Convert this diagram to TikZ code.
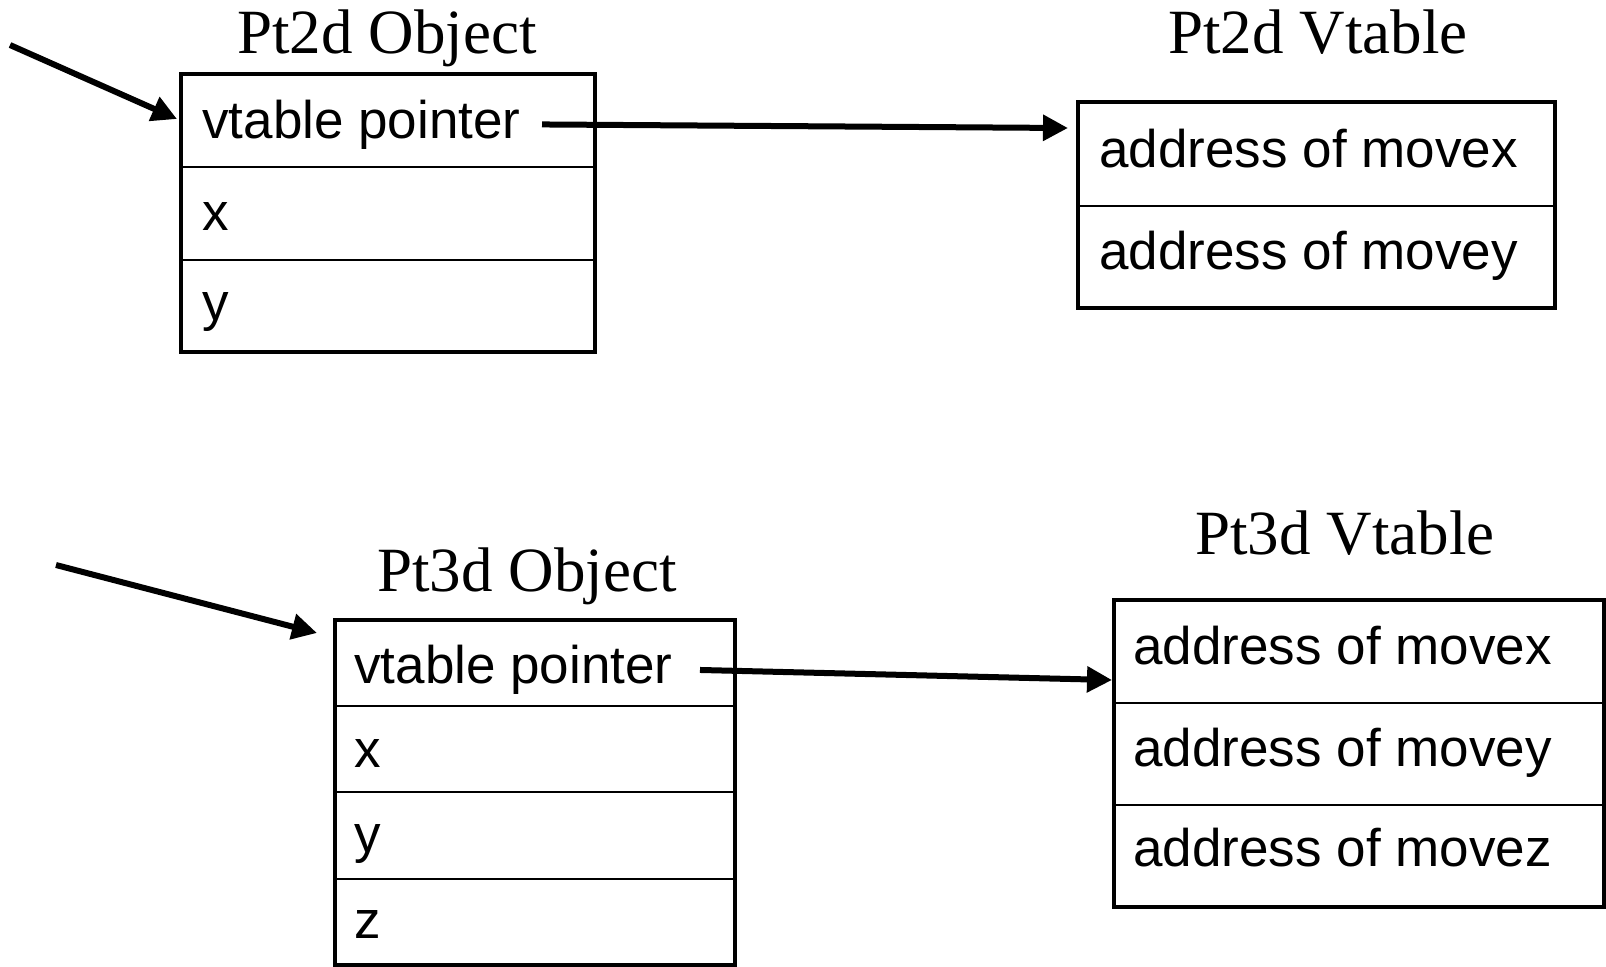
\documentclass[tikz,border=0pt]{standalone}
\usepackage{fontspec}
\setmainfont{Liberation Serif}
\newfontfamily\arialf{Liberation Sans}
\usetikzlibrary{arrows.meta}
\tikzset{
  box/.style={draw, line width=2.25pt, inner sep=0pt, outer sep=0pt, anchor=north west},
  divider/.style={line width=1pt},
  cell/.style={inner sep=0pt, anchor=base west, font=\arialf\fontsize{26.5pt}{30pt}\selectfont},
  title/.style={inner sep=0pt, anchor=base, font=\fontsize{31.5pt}{36pt}\selectfont},
  ptr/.style={line width=3pt, -{Triangle[length=12.5pt,width=12.5pt]}}
}
\begin{document}
\begin{tikzpicture}[x=0.5pt,y=-0.5pt]
\useasboundingbox (0,0) rectangle (1606,966);

% ---------- Pt2d Object ----------
\node[title] (t2o) at (387,53) {Pt2d Object};
\node[box, minimum width=207pt, minimum height=139pt] (p2box) at (181,74) {};
\draw[divider] (181,167) -- (594,167);
\draw[divider] (181,260) -- (594,260);
\node[cell] (p2vp) at (202,138) {vtable pointer};
\node[cell] (p2x) at (202,230) {x};
\node[cell] (p2y) at (202,320) {y};

% ---------- Pt2d Vtable ----------
\node[title] (t2v) at (1318,53) {Pt2d Vtable};
\node[box, minimum width=238.5pt, minimum height=103pt] (v2box) at (1078,102) {};
\draw[divider] (1078,206) -- (1554,206);
\node[cell] (v2a) at (1099,167) {address of movex};
\node[cell] (v2b) at (1099,269) {address of movey};

% ---------- Pt3d Object ----------
\node[title] (t3o) at (527,591) {Pt3d Object};
\node[box, minimum width=200pt, minimum height=172.5pt] (p3box) at (335,620) {};
\draw[divider] (335,706) -- (734,706);
\draw[divider] (335,792) -- (734,792);
\draw[divider] (335,879) -- (734,879);
\node[cell] (p3vp) at (354,683) {vtable pointer};
\node[cell] (p3x) at (354,767) {x};
\node[cell] (p3y) at (354,852) {y};
\node[cell] (p3z) at (354,938) {z};

% ---------- Pt3d Vtable ----------
\node[title] (t3v) at (1345,554) {Pt3d Vtable};
\node[box, minimum width=245pt, minimum height=153.5pt] (v3box) at (1114,600) {};
\draw[divider] (1114,703) -- (1604,703);
\draw[divider] (1114,805) -- (1604,805);
\node[cell] (v3a) at (1133,664) {address of movex};
\node[cell] (v3b) at (1133,766) {address of movey};
\node[cell] (v3c) at (1133,866) {address of movez};

% ---------- pointers ----------
\coordinate (in2) at (10,45);
\coordinate (tip2in) at (177,119);
\coordinate (tip2v) at (1068,128);
\coordinate (in3) at (56,565);
\coordinate (tip3in) at (317,633);
\coordinate (tip3v) at (1112,680);

\draw[ptr] (in2) -- (tip2in);
\draw[ptr, shorten <=10.5pt] (p2vp.east) -- (tip2v);
\draw[ptr] (in3) -- (tip3in);
\draw[ptr, shorten <=13.5pt] (p3vp.east) -- (tip3v);
\end{tikzpicture}
\end{document}
